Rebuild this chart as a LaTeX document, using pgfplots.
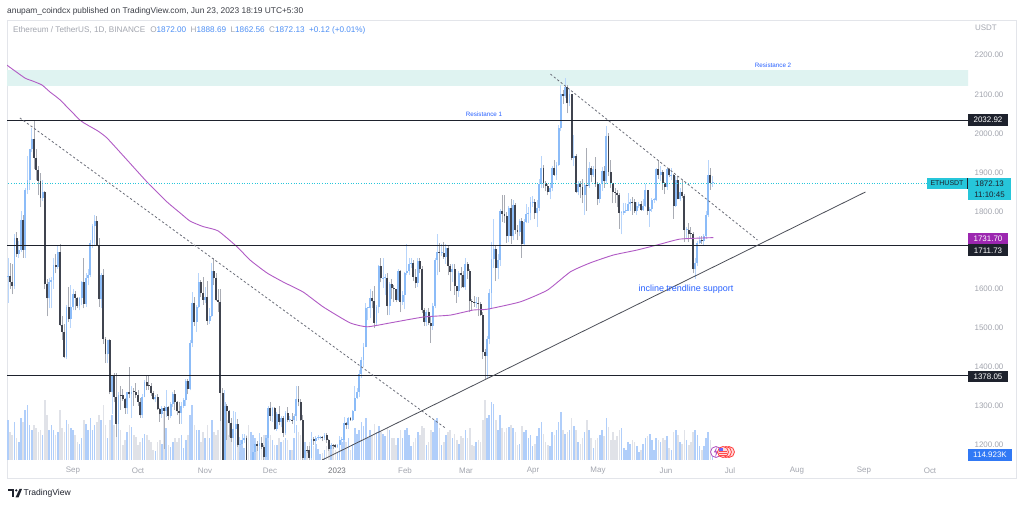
\documentclass[border=0pt]{standalone}
\usepackage{pgfplots}
\pgfplotsset{compat=1.18}
\usepackage{pgfplotstable}
\usepackage{fontspec}
\setmainfont{Liberation Sans}
\definecolor{upbody}{HTML}{8CBCF8}
\definecolor{upwick}{HTML}{B8D5FB}
\definecolor{dnbody}{HTML}{40444F}
\definecolor{dnwick}{HTML}{A9ACB4}
\definecolor{volup}{HTML}{B0CEFA}
\definecolor{voldn}{HTML}{E0E2E8}
\definecolor{maline}{HTML}{B15BC5}
\definecolor{zone}{HTML}{DFF3F1}
\definecolor{lvl}{HTML}{1E222D}
\definecolor{dashc}{HTML}{6A6D78}
\definecolor{trend}{HTML}{4C4F58}
\definecolor{tvblue}{HTML}{2962FF}
\definecolor{lgrey}{HTML}{A3A6AF}
\definecolor{nblue}{HTML}{4D8FF5}
\definecolor{hdr}{HTML}{3A3D45}
\definecolor{cyanl}{HTML}{26C6DA}
\definecolor{purp}{HTML}{9C27B0}
\definecolor{border}{HTML}{E3E5EA}
\definecolor{volbox}{HTML}{3179F5}

\pgfplotstableread{
d o h l c v
-31 1678 1698 1610 1630 30
-30 1630 1680 1565 1632 40
-29 1632 1666 1600 1619 28
-28 1619 1665 1586 1607 25
-27 1607 1740 1600 1730 38
-26 1730 1745 1682 1690 22
-25 1690 1722 1680 1700 18
-24 1700 1800 1695 1776 42
-23 1776 1790 1680 1700 38
-22 1700 1860 1680 1853 50
-21 1853 1942 1844 1880 55
-20 1880 1960 1855 1958 35
-19 1958 2012 1950 1984 30
-18 1984 2030 1908 1936 35
-17 1936 1960 1880 1905 32
-16 1905 1915 1840 1877 28
-15 1877 1898 1810 1833 30
-14 1833 1880 1825 1848 25
-13 1848 1850 1600 1613 60
-12 1613 1626 1530 1576 45
-11 1576 1628 1550 1619 30
-10 1619 1630 1550 1624 35
-9 1624 1680 1600 1661 30
-8 1661 1690 1640 1657 25
-7 1657 1710 1650 1696 28
-6 1696 1715 1505 1507 50
-5 1507 1530 1470 1490 32
-4 1490 1510 1422 1425 28
-3 1425 1560 1420 1553 40
-2 1553 1606 1515 1523 36
-1 1523 1610 1500 1553 32
0 1553 1600 1545 1587 30
1 1587 1595 1545 1577 25
2 1577 1580 1550 1556 18
3 1556 1580 1545 1576 16
4 1576 1620 1560 1617 22
5 1617 1680 1550 1562 40
6 1562 1640 1555 1629 36
7 1629 1650 1610 1635 30
8 1635 1726 1630 1717 42
9 1717 1767 1704 1761 30
10 1761 1790 1710 1775 35
11 1775 1786 1710 1714 38
12 1714 1730 1555 1574 45
13 1574 1640 1550 1635 40
14 1635 1650 1460 1473 55
15 1473 1476 1410 1432 35
16 1432 1470 1410 1470 22
17 1470 1472 1330 1336 40
18 1336 1380 1280 1377 45
19 1377 1385 1310 1324 35
20 1324 1385 1220 1254 45
21 1254 1335 1240 1328 42
22 1328 1350 1290 1327 30
23 1327 1344 1313 1317 15
24 1317 1320 1280 1294 20
25 1294 1337 1280 1335 28
26 1335 1400 1320 1330 35
27 1330 1350 1270 1337 33
28 1337 1345 1300 1336 25
29 1336 1360 1320 1328 23
30 1328 1340 1300 1311 15
31 1311 1320 1270 1276 18
32 1276 1330 1270 1323 22
33 1323 1367 1322 1362 26
34 1362 1380 1340 1352 25
35 1352 1378 1342 1351 20
36 1351 1360 1325 1332 18
37 1332 1338 1315 1317 10
38 1317 1328 1310 1322 9
39 1322 1330 1290 1291 18
40 1291 1295 1260 1280 20
41 1280 1300 1270 1295 16
42 1295 1300 1190 1288 48
43 1288 1340 1272 1297 32
44 1297 1300 1265 1275 15
45 1275 1310 1268 1306 13
46 1306 1337 1298 1331 18
47 1331 1340 1290 1310 22
48 1310 1314 1276 1286 18
49 1286 1310 1255 1282 22
50 1282 1310 1254 1299 25
51 1299 1320 1295 1315 12
52 1315 1370 1300 1363 20
53 1363 1370 1330 1344 25
54 1344 1470 1340 1461 45
55 1461 1592 1450 1565 55
56 1565 1580 1505 1515 35
57 1515 1560 1490 1555 30
58 1555 1640 1550 1619 30
59 1619 1623 1580 1589 18
60 1589 1630 1560 1572 28
61 1572 1606 1565 1579 22
62 1579 1620 1508 1519 35
63 1519 1550 1511 1531 22
64 1531 1666 1528 1645 40
65 1645 1680 1610 1627 28
66 1627 1640 1570 1571 25
67 1571 1600 1540 1567 30
68 1567 1600 1261 1334 58
69 1334 1345 1073 1100 62
70 1100 1340 1080 1300 58
71 1300 1305 1214 1286 40
72 1286 1290 1220 1256 25
73 1256 1270 1208 1219 22
74 1219 1287 1163 1242 38
75 1242 1285 1231 1253 28
76 1253 1267 1194 1200 25
77 1200 1220 1181 1202 20
78 1202 1227 1198 1212 16
79 1212 1227 1205 1218 12
80 1218 1222 1135 1141 25
81 1141 1147 1073 1108 35
82 1108 1140 1090 1134 28
83 1134 1192 1124 1183 25
84 1183 1218 1180 1203 22
85 1203 1210 1185 1198 15
86 1198 1230 1195 1205 14
87 1205 1221 1190 1195 15
88 1195 1200 1153 1168 25
89 1168 1222 1162 1217 25
90 1217 1300 1210 1296 30
91 1296 1310 1262 1275 25
92 1275 1297 1260 1294 20
93 1294 1298 1238 1241 15
94 1241 1285 1237 1280 15
95 1280 1300 1250 1259 22
96 1259 1275 1245 1270 18
97 1270 1275 1220 1231 20
98 1231 1287 1225 1281 22
99 1281 1298 1258 1264 20
100 1264 1275 1260 1265 10
101 1265 1282 1255 1263 10
102 1263 1280 1230 1274 22
103 1274 1350 1262 1318 35
104 1318 1352 1299 1309 28
105 1309 1318 1261 1265 25
106 1265 1277 1158 1166 35
107 1166 1190 1160 1187 18
108 1187 1197 1180 1186 10
109 1186 1197 1157 1167 18
110 1167 1222 1161 1216 28
111 1216 1220 1201 1211 14
112 1211 1222 1192 1218 16
113 1218 1225 1212 1219 11
114 1219 1222 1216 1220 6
115 1220 1222 1210 1218 7
116 1218 1230 1214 1226 10
117 1226 1230 1205 1212 14
118 1212 1215 1185 1190 18
119 1190 1204 1183 1200 15
120 1200 1202 1190 1199 14
121 1199 1202 1193 1196 10
122 1196 1202 1192 1200 8
123 1200 1222 1192 1214 15
124 1214 1220 1205 1214 18
125 1214 1272 1210 1256 30
126 1256 1260 1240 1251 18
127 1251 1272 1240 1269 22
128 1269 1271 1262 1264 10
129 1264 1290 1262 1287 16
130 1287 1350 1286 1321 32
131 1321 1345 1318 1336 26
132 1336 1393 1323 1383 30
133 1383 1425 1373 1418 38
134 1418 1462 1400 1451 34
135 1451 1565 1450 1551 42
136 1551 1552 1520 1551 22
137 1551 1600 1525 1578 30
138 1578 1595 1550 1568 25
139 1568 1608 1500 1514 36
140 1514 1560 1506 1553 28
141 1553 1662 1538 1659 34
142 1659 1680 1617 1627 28
143 1627 1680 1603 1628 26
144 1628 1639 1585 1628 24
145 1628 1640 1532 1556 32
146 1556 1617 1534 1612 30
147 1612 1625 1574 1603 22
148 1603 1610 1566 1599 22
149 1599 1600 1566 1573 15
150 1573 1650 1570 1646 22
151 1646 1648 1540 1566 30
152 1566 1594 1560 1585 22
153 1585 1644 1548 1642 30
154 1642 1715 1635 1645 32
155 1645 1679 1637 1665 25
156 1665 1680 1655 1666 14
157 1666 1674 1620 1631 18
158 1631 1650 1602 1616 22
159 1616 1680 1605 1672 28
160 1672 1680 1640 1651 25
161 1651 1660 1538 1546 34
162 1546 1552 1505 1515 32
163 1515 1545 1505 1540 15
164 1540 1550 1508 1514 18
165 1514 1530 1462 1506 30
166 1506 1565 1495 1557 28
167 1557 1680 1550 1674 40
168 1674 1742 1635 1694 42
169 1694 1719 1643 1693 32
170 1693 1715 1685 1693 15
171 1693 1720 1677 1681 18
172 1681 1715 1665 1704 25
173 1704 1714 1635 1659 28
174 1659 1665 1595 1643 30
175 1643 1664 1618 1650 22
176 1650 1665 1585 1607 26
177 1607 1608 1565 1595 20
178 1595 1645 1580 1641 16
179 1641 1656 1602 1635 24
180 1635 1647 1602 1605 22
181 1605 1680 1598 1663 30
182 1663 1668 1625 1647 22
183 1647 1650 1540 1569 32
184 1569 1574 1545 1566 15
185 1566 1583 1555 1564 14
186 1564 1580 1551 1565 18
187 1565 1580 1530 1561 20
188 1561 1567 1530 1534 18
189 1534 1540 1420 1438 40
190 1438 1445 1368 1429 60
191 1429 1480 1371 1472 42
192 1472 1600 1460 1590 45
193 1590 1720 1550 1678 58
194 1678 1780 1655 1703 56
195 1703 1710 1620 1655 40
196 1655 1690 1625 1675 30
197 1675 1805 1660 1800 45
198 1800 1842 1772 1793 32
199 1793 1842 1770 1786 28
200 1786 1798 1718 1737 32
201 1737 1812 1720 1808 33
202 1808 1830 1715 1735 35
203 1735 1828 1725 1816 32
204 1816 1820 1740 1751 28
205 1751 1765 1725 1745 15
206 1745 1780 1735 1775 16
207 1775 1782 1680 1715 34
208 1715 1780 1710 1772 28
209 1772 1818 1768 1792 30
210 1792 1810 1770 1795 22
211 1795 1836 1776 1822 25
212 1822 1838 1810 1824 14
213 1824 1830 1780 1794 16
214 1794 1828 1760 1808 24
215 1808 1882 1800 1869 32
216 1869 1940 1860 1909 38
217 1909 1919 1858 1873 26
218 1873 1878 1850 1865 18
219 1865 1868 1840 1848 15
220 1848 1870 1830 1860 14
221 1860 1915 1850 1910 28
222 1910 1930 1890 1893 25
223 1893 1925 1880 1919 30
224 1919 2020 1915 2012 38
225 2012 2122 2004 2099 48
226 2099 2110 2075 2094 30
227 2094 2141 2090 2118 26
228 2118 2122 2050 2076 28
229 2076 2113 2070 2099 30
230 2099 2100 1930 1937 42
231 1937 1995 1915 1940 34
232 1940 1945 1845 1849 30
233 1849 1876 1840 1870 18
234 1870 1878 1832 1862 16
235 1862 1883 1820 1842 22
236 1842 1870 1790 1866 28
237 1866 1962 1800 1865 40
238 1865 1925 1860 1910 30
239 1910 1915 1875 1893 22
240 1893 1915 1888 1908 12
241 1908 1938 1862 1870 20
242 1870 1875 1815 1831 22
243 1831 1870 1820 1868 25
244 1868 1912 1852 1902 30
245 1902 1915 1860 1876 24
246 1876 2018 1870 1993 42
247 1993 2000 1890 1900 33
248 1900 1930 1860 1871 20
249 1871 1872 1820 1849 28
250 1849 1860 1820 1847 20
251 1847 1855 1810 1842 24
252 1842 1846 1755 1795 30
253 1795 1800 1740 1795 32
254 1795 1820 1790 1800 12
255 1800 1820 1795 1801 10
256 1801 1845 1800 1818 18
257 1818 1830 1800 1823 16
258 1823 1835 1790 1822 20
259 1822 1830 1795 1799 18
260 1799 1824 1790 1812 14
261 1812 1822 1808 1819 8
262 1819 1826 1800 1803 10
263 1803 1830 1800 1814 16
264 1814 1870 1810 1853 22
265 1853 1855 1790 1801 24
266 1801 1810 1760 1804 26
267 1804 1832 1798 1828 20
268 1828 1834 1820 1829 10
269 1829 1910 1825 1908 22
270 1908 1928 1883 1893 20
271 1893 1915 1878 1901 18
272 1901 1905 1855 1873 22
273 1873 1875 1843 1862 20
274 1862 1910 1855 1907 24
275 1907 1909 1886 1891 12
276 1891 1910 1880 1891 10
277 1891 1895 1780 1813 28
278 1813 1890 1810 1880 30
279 1880 1890 1830 1831 25
280 1831 1860 1825 1849 18
281 1849 1880 1833 1838 16
282 1838 1843 1720 1752 30
283 1752 1760 1730 1752 20
284 1752 1768 1720 1742 15
285 1742 1760 1730 1741 18
286 1741 1745 1640 1651 28
287 1651 1680 1626 1666 30
288 1666 1722 1660 1718 25
289 1718 1735 1715 1725 14
290 1725 1735 1716 1722 10
291 1722 1740 1712 1736 14
292 1736 1800 1728 1789 22
293 1789 1930 1784 1891 28
294 1891 1910 1855 1872 20
295 1872.00 1888.69 1862.56 1872.13 7.7
}\eth

\pgfplotstableread{
d p
-30.5 2174
-22.2 2141
-18.5 2133
-14.3 2123
-10.6 2105
-6 2085
3.2 2033
6.5 2021
11.5 2005
15.7 1987
24.9 1931
34.2 1874
43.4 1823
49.4 1795
54 1774
60 1760
66.9 1749
75.7 1708
81.7 1674
89.5 1641
96.9 1618
106.2 1592
115.4 1554
127.8 1513
135.7 1503
146.3 1513
161.5 1528
174 1533
184.6 1546
191 1548
206.3 1567
218.8 1597
229.4 1644
238.6 1667
249.2 1687
260.3 1700
270.9 1715
280.1 1728
295.4 1731.7
}\ma

\pgfplotsset{base/.style={scale only axis, width=961bp, height=440bp,
  xmin=-30.44, xmax=412.8, hide axis, clip=true, at={(7bp,46bp)}, anchor=south west},
  candle/.style={draw=none, mark=none, forget plot,
  error bars/.cd, y dir=plus, y explicit, error mark=none}}

\begin{document}
\begin{tikzpicture}[x=1bp,y=1bp]
\useasboundingbox (0,0) rectangle (1024,506);
\fill[white] (0,0) rectangle (1024,506);
% panel borders
\draw[border, line width=0.8] (7,486) -- (1016,486) -- (1016,28) -- (7,28) -- cycle;

% volume
\begin{axis}[base, ymin=0, ymax=440]
\addplot[ycomb, mark=none, line width=1.6bp, color=volup,
  restrict expr to domain={\thisrow{c}-\thisrow{o}}{0:100000}] table[x=d, y=v] {\eth};
\addplot[ycomb, mark=none, line width=1.6bp, color=voldn,
  restrict expr to domain={\thisrow{c}-\thisrow{o}}{-100000:-0.0001}] table[x=d, y=v] {\eth};
\end{axis}

% price
\begin{axis}[base, ymin=1161.5, ymax=2289.7]
\fill[zone] (axis cs:-40,2120.5) rectangle (axis cs:420,2161.5);
% wicks up
\addplot[restrict expr to domain={\thisrow{c}-\thisrow{o}}{0:100000},
  candle, error bar style={line width=0.9bp, draw=upwick}]
  table[x=d, y=l, y error plus expr=\thisrow{h}-\thisrow{l}] {\eth};
% wicks down
\addplot[restrict expr to domain={\thisrow{c}-\thisrow{o}}{-100000:-0.0001},
  candle, error bar style={line width=0.9bp, draw=dnwick}]
  table[x=d, y=l, y error plus expr=\thisrow{h}-\thisrow{l}] {\eth};
% bodies up
\addplot[restrict expr to domain={\thisrow{c}-\thisrow{o}}{0:100000},
  candle, error bar style={line width=1.9bp, draw=upbody}]
  table[x=d, y=o, y error plus expr={max(\thisrow{c}-\thisrow{o},2)}] {\eth};
% bodies down
\addplot[restrict expr to domain={\thisrow{c}-\thisrow{o}}{-100000:-0.0001},
  candle, error bar style={line width=1.9bp, draw=dnbody}]
  table[x=d, y=c, y error plus expr={max(\thisrow{o}-\thisrow{c},2)}] {\eth};

% moving average
\addplot[maline, line width=0.9bp, mark=none, smooth, tension=0.3] table[x=d, y=p] {\ma};

% levels
\addplot[lvl, line width=1.1bp, mark=none] coordinates {(-31,2032.92) (413,2032.92)};
\addplot[lvl, line width=1.1bp, mark=none] coordinates {(-31,1711.73) (413,1711.73)};
\addplot[lvl, line width=1.1bp, mark=none] coordinates {(-31,1378.05) (413,1378.05)};
\addplot[cyanl, line width=0.6bp, dotted, mark=none] coordinates {(-31,1872.13) (413,1872.13)};

% trend lines
\addplot[dashc, line width=0.8bp, dash pattern=on 2.2bp off 2.2bp, mark=none] coordinates {(-24.5,2038.5) (171.7,1243.6)};
\addplot[dashc, line width=0.8bp, dash pattern=on 2.2bp off 2.2bp, mark=none] coordinates {(220.2,2151) (315.7,1725.6)};
\addplot[trend, line width=0.8bp, mark=none] coordinates {(114.9,1161.5) (365.5,1848.7)};

% texts
\node[text=tvblue, font=\fontsize{6.3}{7}\selectfont] at (axis cs:189.6,2048.7) {Resistance 1};
\node[text=tvblue, font=\fontsize{6.3}{7}\selectfont] at (axis cs:322.9,2174.4) {Resistance 2};
\node[text=tvblue, font=\fontsize{9}{10}\selectfont] at (axis cs:282.7,1600) {incline trendline support};
\end{axis}

% event icons
\draw[purp!80, fill=white, line width=0.8] (716,54) circle (5.5);
\fill[purp!80] (716.8,59) -- (713.8,53.5) -- (716,53.5) -- (715.2,49) -- (718.2,54.5) -- (716,54.5) -- cycle;
\foreach \xx in {729,726,723} {\draw[red!75, fill=red!15, line width=0.8] (\xx,54) circle (5.5);}
\fill[blue!60] (719,54) rectangle (722.5,57.5);
\foreach \yy in {50.5,52.5,54.5} {\draw[red!70, line width=0.7] (719,\yy) -- (727,\yy);}

% header
\node[anchor=west, text=hdr, inner sep=0, font=\fontsize{8.4}{9}\selectfont] at (7,495) {anupam\_coindcx published on TradingView.com, Jun 23, 2023 18:19 UTC+5:30};
\node[anchor=west, inner sep=0, font=\fontsize{8.2}{9}\selectfont] at (13,476) {{\color{lgrey}Ethereum / TetherUS, 1D, BINANCE}\hspace{5bp}{\color{lgrey}O}{\color{nblue}1872.00}\hspace{4.5bp}{\color{lgrey}H}{\color{nblue}1888.69}\hspace{4.5bp}{\color{lgrey}L}{\color{nblue}1862.56}\hspace{4.5bp}{\color{lgrey}C}{\color{nblue}1872.13}\hspace{4.5bp}{\color{nblue}+0.12 (+0.01\%)}};

% price scale labels
\begin{scope}[every node/.style={text=lgrey, font=\fontsize{8}{9}\selectfont, inner sep=0}]
\node at (986,478) {USDT};
\node at (989,451) {2200.00};
\node at (989,411) {2100.00};
\node at (989,372) {2000.00};
\node at (989,333) {1900.00};
\node at (989,294) {1800.00};
\node at (989,217) {1600.00};
\node at (989,178) {1500.00};
\node at (989,139) {1400.00};
\node at (989,100) {1300.00};
\node at (989,61) {1200.00};
\end{scope}

% value boxes
\begin{scope}[every node/.style={font=\fontsize{8}{9}\selectfont, inner sep=0}]
\fill[lvl] (968,380) rectangle (1008,392); \node[text=white] at (988,386) {2032.92};
\fill[cyanl] (927,317) rectangle (967.3,328); \node[text=lvl, font=\fontsize{7}{8}\selectfont] at (947,322.5) {ETHUSDT};
\fill[cyanl] (968,306) rectangle (1011,328); \draw[lvl, line width=0.6] (967.6,317) -- (967.6,328);
\node[text=lvl] at (989.5,322) {1872.13};
\node[text=lvl] at (989.5,311) {11:10:45};
\fill[purp] (968,262) rectangle (1008,273); \node[text=white] at (988,267.5) {1731.70};
\fill[lvl] (968,250) rectangle (1008,261.5); \node[text=white] at (988,255.7) {1711.73};
\fill[lvl] (968,124) rectangle (1008,135); \node[text=white] at (988,129.5) {1378.05};
\fill[volbox] (968,45) rectangle (1012,57); \node[text=white] at (990,51) {114.923K};
\end{scope}

% time labels
\begin{scope}[every node/.style={text=lgrey, font=\fontsize{8}{9}\selectfont, inner sep=0}]
\node at (73,35) {Sep};
\node at (138,35) {Oct};
\node at (205,35) {Nov};
\node at (270,35) {Dec};
\node[text=lgrey!70!black] at (337,35) {2023};
\node at (405,35) {Feb};
\node at (466,35) {Mar};
\node at (533,35) {Apr};
\node at (598,35) {May};
\node at (666,35) {Jun};
\node at (730,35) {Jul};
\node at (797,35) {Aug};
\node at (864,35) {Sep};
\node at (930,35) {Oct};
\end{scope}

% footer logo
\fill[lvl] (8,14.5) rectangle (14,17);
\fill[lvl] (11.5,8.5) rectangle (14,17);
\fill[lvl] (16.2,15.6) circle (1.3);
\fill[lvl] (15.5,8.5) -- (19.5,17) -- (22,17) -- (18.5,8.5) -- cycle;
\node[anchor=west, text=lvl, inner sep=0, font=\fontsize{8.6}{10}\selectfont] at (23.5,12.6) {TradingView};
\end{tikzpicture}
\end{document}
